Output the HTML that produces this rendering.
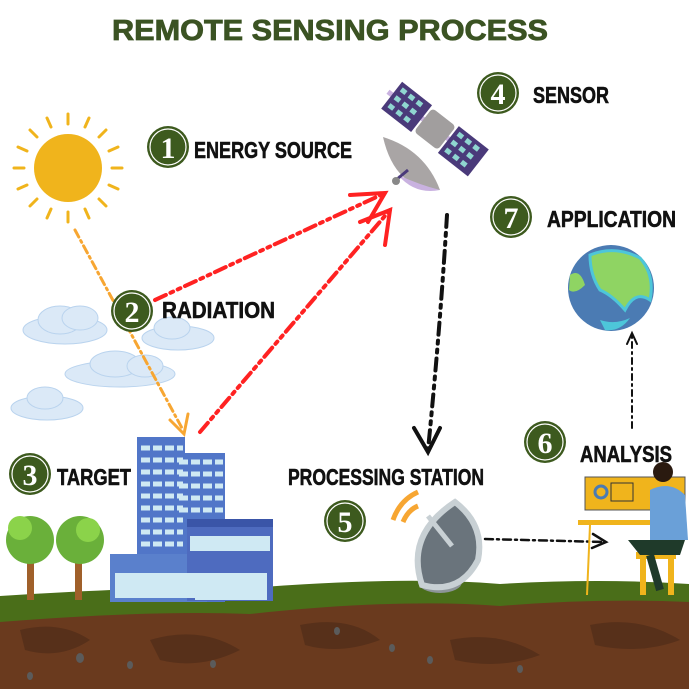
<!DOCTYPE html>
<html><head><meta charset="utf-8"><style>
html,body{margin:0;padding:0;background:#fff;}
svg{display:block}
.lbl{font-family:"Liberation Sans Narrow","Liberation Sans",sans-serif;font-weight:bold;fill:#111;stroke:#111;stroke-width:0.6}
.num{font-family:"Liberation Serif",serif;font-weight:bold;fill:#fff;font-size:30px;text-anchor:middle}
</style></head><body>
<svg width="689" height="689" viewBox="0 0 689 689">
<text x="330" y="40" text-anchor="middle" textLength="436" lengthAdjust="spacingAndGlyphs" font-family="Liberation Sans, sans-serif" font-weight="bold" font-size="29" fill="#3b5323" stroke="#3b5323" stroke-width="0.8">REMOTE SENSING PROCESS</text>

<!-- sun -->
<g stroke="#f0b41c" stroke-width="3" stroke-linecap="round">
<line x1="68" y1="114" x2="68" y2="124"/><line x1="68" y1="212" x2="68" y2="222"/>
<line x1="14" y1="168" x2="24" y2="168"/><line x1="112" y1="168" x2="122" y2="168"/>
<line x1="30" y1="130" x2="37" y2="137"/><line x1="99" y1="199" x2="106" y2="206"/>
<line x1="106" y1="130" x2="99" y2="137"/><line x1="37" y1="199" x2="30" y2="206"/>
<line x1="47" y1="118" x2="51" y2="127"/><line x1="89" y1="118" x2="85" y2="127"/>
<line x1="47" y1="218" x2="51" y2="209"/><line x1="89" y1="218" x2="85" y2="209"/>
<line x1="18" y1="147" x2="27" y2="151"/><line x1="118" y1="147" x2="109" y2="151"/>
<line x1="18" y1="189" x2="27" y2="185"/><line x1="118" y1="189" x2="109" y2="185"/>
<circle cx="68" cy="168" r="34" fill="#f0b41c" stroke="none"/>
</g>

<!-- clouds -->
<g fill="#dbe9f7" stroke="#b9d3ee" stroke-width="1">
<ellipse cx="65" cy="330" rx="42" ry="14"/><ellipse cx="60" cy="320" rx="22" ry="14"/><ellipse cx="80" cy="318" rx="18" ry="12"/>
<ellipse cx="178" cy="338" rx="36" ry="12"/><ellipse cx="172" cy="328" rx="18" ry="11"/>
<ellipse cx="120" cy="374" rx="55" ry="13"/><ellipse cx="115" cy="364" rx="25" ry="13"/><ellipse cx="145" cy="366" rx="18" ry="11"/>
<ellipse cx="47" cy="408" rx="36" ry="12"/><ellipse cx="45" cy="398" rx="18" ry="11"/>
</g>

<!-- arrows -->
<g fill="none" stroke-linecap="round">
<path d="M75 230 L183 430" stroke="#f7a632" stroke-width="3" stroke-dasharray="8 4 2 4"/>
<path d="M170 420 L184 434 L188 414" stroke="#f7a632" stroke-width="3"/>
<path d="M155 300 L385 193" stroke="#f22" stroke-width="4" stroke-dasharray="12 5 3 5 3 5"/>
<path d="M350 195 L385 193 L368 222" stroke="#f22" stroke-width="4"/>
<path d="M200 432 L390 210" stroke="#f22" stroke-width="4" stroke-dasharray="12 5 3 5 3 5"/>
<path d="M360 222 L390 210 L385 245" stroke="#f22" stroke-width="4"/>
<path d="M447 215 Q440 330 428 450" stroke="#111" stroke-width="4" stroke-dasharray="12 6 3 6 3 6"/>
<path d="M414 428 L428 452 L440 428" stroke="#111" stroke-width="4"/>
<path d="M485 539 L605 542" stroke="#111" stroke-width="2.5" stroke-dasharray="8 4 2 4"/>
<path d="M593 534 L606 542 L592 548" stroke="#111" stroke-width="2.5"/>
<path d="M632 428 L632 335" stroke="#111" stroke-width="2" stroke-dasharray="6 4 2 4"/>
<path d="M627 344 L632 333 L637 344" stroke="#111" stroke-width="2"/>
</g>

<!-- satellite -->
<g>
<g transform="rotate(38 432 128)">
<rect x="375" y="124" width="115" height="5" fill="#c9b2e0"/>
<rect x="380" y="110" width="38" height="34" fill="#4a3a7a"/>
<rect x="452" y="110" width="38" height="34" fill="#4a3a7a"/>
<g fill="#8fd6d0"><rect x="384" y="114" width="6" height="5"/><rect x="394" y="114" width="6" height="5"/><rect x="404" y="114" width="6" height="5"/><rect x="384" y="124" width="6" height="5"/><rect x="394" y="124" width="6" height="5"/><rect x="404" y="124" width="6" height="5"/><rect x="384" y="134" width="6" height="5"/><rect x="394" y="134" width="6" height="5"/><rect x="404" y="134" width="6" height="5"/>
<rect x="456" y="114" width="6" height="5"/><rect x="466" y="114" width="6" height="5"/><rect x="476" y="114" width="6" height="5"/><rect x="456" y="124" width="6" height="5"/><rect x="466" y="124" width="6" height="5"/><rect x="476" y="124" width="6" height="5"/><rect x="456" y="134" width="6" height="5"/><rect x="466" y="134" width="6" height="5"/><rect x="476" y="134" width="6" height="5"/></g>
<rect x="420" y="112" width="30" height="30" rx="4" fill="#a19e9e"/>
</g>
<path d="M383 137 Q425 150 440 190 Q395 190 383 137Z" fill="#a9a5a5"/>
<path d="M398 175 Q420 185 440 190 Q415 195 398 175Z" fill="#c9b2e0"/>
<line x1="408" y1="170" x2="396" y2="180" stroke="#4a3a7a" stroke-width="3"/>
<circle cx="396" cy="181" r="4" fill="#888"/>
</g>

<!-- globe -->
<g>
<circle cx="611" cy="288" r="43" fill="#4b7bb3"/>
<path d="M590 255 Q615 245 640 258 Q655 275 650 300 Q635 290 625 310 Q612 295 600 290 Q590 275 590 255Z" fill="#8fd463" stroke="#4dc6d9" stroke-width="3"/>
<path d="M570 275 Q580 268 585 285 Q575 295 569 290Z" fill="#8fd463"/>
<path d="M600 320 Q615 325 630 318 Q620 332 605 330Z" fill="#4dc6d9"/>
</g>

<!-- ground -->
<path d="M0 600 Q150 590 250 592 Q400 580 500 588 Q600 582 689 588 L689 689 L0 689Z" fill="#6a3a1e"/>
<g fill="#57301a">
<path d="M20 630 Q60 620 90 640 Q60 660 25 650Z"/><path d="M150 640 Q200 625 240 650 Q200 670 160 660Z"/><path d="M300 625 Q350 615 380 640 Q340 655 305 645Z"/><path d="M450 640 Q500 630 540 655 Q500 670 455 660Z"/><path d="M590 625 Q640 615 680 640 Q640 655 595 645Z"/>
</g>
<path d="M0 596 Q150 586 250 588 Q400 576 500 584 Q600 578 689 584 L689 602 Q600 598 500 606 Q400 598 250 614 Q150 610 0 622Z" fill="#4a6e19"/>
<g fill="#5b5b5b">
<ellipse cx="80" cy="658" rx="4" ry="5"/><ellipse cx="130" cy="665" rx="3" ry="4"/><ellipse cx="213" cy="664" rx="3" ry="4"/><ellipse cx="337" cy="631" rx="3" ry="4"/><ellipse cx="392" cy="648" rx="3" ry="4"/><ellipse cx="430" cy="660" rx="3" ry="4"/><ellipse cx="520" cy="669" rx="3" ry="4"/><ellipse cx="30" cy="676" rx="3" ry="4"/>
</g>

<!-- trees -->
<g>
<rect x="27" y="555" width="7" height="45" fill="#a0602a"/><rect x="75" y="555" width="7" height="45" fill="#a0602a"/>
<circle cx="30" cy="540" r="24" fill="#6ab03a"/><circle cx="80" cy="540" r="24" fill="#6ab03a"/>
<circle cx="20" cy="528" r="12" fill="#8bd34a"/><circle cx="88" cy="530" r="12" fill="#8bd34a"/>
</g>

<!-- buildings -->
<g>
<rect x="137" y="437" width="48" height="165" fill="#5176c8"/>
<rect x="175" y="453" width="50" height="149" fill="#5176c8"/>
<g stroke="#cfe9f3" stroke-width="5" stroke-dasharray="9 3">
<line x1="141" y1="448" x2="183" y2="448"/><line x1="141" y1="460" x2="183" y2="460"/><line x1="141" y1="472" x2="183" y2="472"/><line x1="141" y1="484" x2="183" y2="484"/><line x1="141" y1="496" x2="183" y2="496"/><line x1="141" y1="508" x2="183" y2="508"/><line x1="141" y1="520" x2="183" y2="520"/><line x1="141" y1="532" x2="183" y2="532"/><line x1="141" y1="544" x2="183" y2="544"/>
<line x1="179" y1="462" x2="223" y2="462"/><line x1="179" y1="474" x2="223" y2="474"/><line x1="179" y1="486" x2="223" y2="486"/><line x1="179" y1="498" x2="223" y2="498"/><line x1="179" y1="510" x2="223" y2="510"/>
</g>
<rect x="110" y="554" width="97" height="48" fill="#5a80cc"/>
<rect x="187" y="519" width="86" height="82" fill="#4e6bbf"/>
<rect x="187" y="519" width="86" height="8" fill="#3a55a8"/>
<rect x="190" y="536" width="80" height="15" fill="#cfe9f3"/>
<rect x="195" y="573" width="72" height="27" fill="#cfe9f3"/>
<rect x="115" y="573" width="80" height="25" fill="#cfe9f3"/>
</g>

<!-- dish -->
<g>
<ellipse cx="440" cy="582" rx="22" ry="11" fill="#8d9599"/>
<path d="M422 585 Q405 535 455 502 Q485 525 478 560 Q460 595 422 585Z" fill="#6a747c" stroke="#c8d0d4" stroke-width="6"/>
<line x1="428" y1="516" x2="452" y2="546" stroke="#c8d0d4" stroke-width="5"/>
<path d="M393 520 Q400 500 418 492" stroke="#f7a632" stroke-width="5" fill="none"/>
<path d="M403 522 Q408 510 418 506" stroke="#f7a632" stroke-width="5" fill="none"/>
</g>

<!-- analysis desk / person -->
<g>
<rect x="585" y="477" width="100" height="33" fill="#f0b41c" stroke="#555" stroke-width="1"/>
<circle cx="601" cy="492" r="6" fill="none" stroke="#4b7bb3" stroke-width="3"/>
<rect x="611" y="483" width="22" height="18" fill="none" stroke="#333"/>
<rect x="578" y="520" width="80" height="5" fill="#f0b41c"/>
<line x1="590" y1="525" x2="587" y2="595" stroke="#f0b41c" stroke-width="2"/>
<rect x="636" y="552" width="40" height="7" fill="#f0b41c"/>
<rect x="640" y="559" width="6" height="36" fill="#f0b41c"/><rect x="668" y="559" width="6" height="36" fill="#f0b41c"/>
<circle cx="663" cy="472" r="10" fill="#2a1a10"/>
<path d="M650 490 Q670 480 685 495 L688 540 L650 540Z" fill="#6aa0d8"/>
<path d="M628 540 L685 540 L680 555 L640 555Z" fill="#1f3a2a"/>
<path d="M650 555 L660 590" stroke="#1f3a2a" stroke-width="8"/>
</g>

<!-- badges -->
<g>
<g><circle cx="168" cy="147" r="21" fill="#3d5a1e"/><circle cx="168" cy="147" r="18" fill="none" stroke="#fff" stroke-width="1.2"/><text class="num" x="168" y="158">1</text></g>
<g><circle cx="132" cy="311" r="21" fill="#3d5a1e"/><circle cx="132" cy="311" r="18" fill="none" stroke="#fff" stroke-width="1.2"/><text class="num" x="132" y="322">2</text></g>
<g><circle cx="30" cy="474" r="21" fill="#3d5a1e"/><circle cx="30" cy="474" r="18" fill="none" stroke="#fff" stroke-width="1.2"/><text class="num" x="30" y="485">3</text></g>
<g><circle cx="498" cy="93" r="21" fill="#3d5a1e"/><circle cx="498" cy="93" r="18" fill="none" stroke="#fff" stroke-width="1.2"/><text class="num" x="498" y="104">4</text></g>
<g><circle cx="345" cy="521" r="21" fill="#3d5a1e"/><circle cx="345" cy="521" r="18" fill="none" stroke="#fff" stroke-width="1.2"/><text class="num" x="345" y="532">5</text></g>
<g><circle cx="545" cy="442" r="21" fill="#3d5a1e"/><circle cx="545" cy="442" r="18" fill="none" stroke="#fff" stroke-width="1.2"/><text class="num" x="545" y="453">6</text></g>
<g><circle cx="511" cy="217" r="21" fill="#3d5a1e"/><circle cx="511" cy="217" r="18" fill="none" stroke="#fff" stroke-width="1.2"/><text class="num" x="511" y="228">7</text></g>
</g>

<!-- labels -->
<text class="lbl" x="194" y="158" font-size="23" textLength="158" lengthAdjust="spacingAndGlyphs">ENERGY SOURCE</text>
<text class="lbl" x="162" y="318" font-size="23" textLength="113" lengthAdjust="spacingAndGlyphs">RADIATION</text>
<text class="lbl" x="57" y="485" font-size="23" textLength="74" lengthAdjust="spacingAndGlyphs">TARGET</text>
<text class="lbl" x="533" y="103" font-size="23" textLength="76" lengthAdjust="spacingAndGlyphs">SENSOR</text>
<text class="lbl" x="288" y="485" font-size="23" textLength="196" lengthAdjust="spacingAndGlyphs">PROCESSING STATION</text>
<text class="lbl" x="580" y="462" font-size="23" textLength="92" lengthAdjust="spacingAndGlyphs">ANALYSIS</text>
<text class="lbl" x="547" y="227" font-size="23" textLength="129" lengthAdjust="spacingAndGlyphs">APPLICATION</text>
</svg>
</body></html>
